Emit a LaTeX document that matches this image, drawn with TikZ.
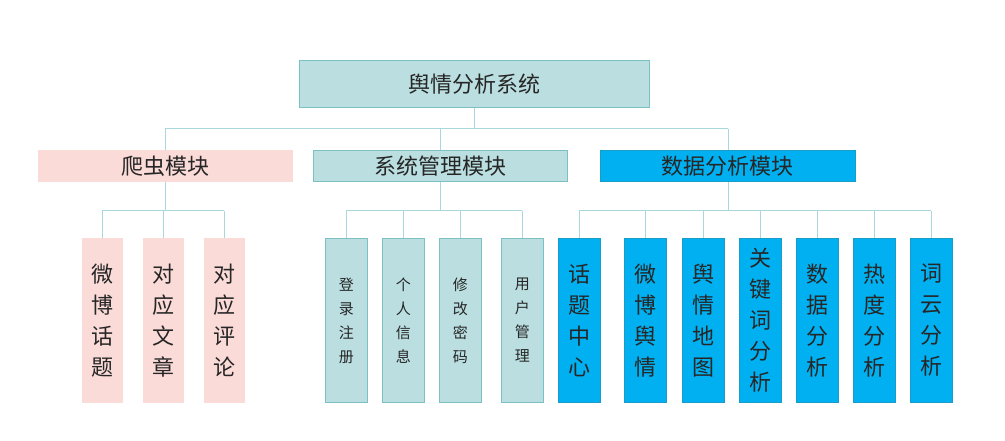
\documentclass[tikz,border=0pt]{standalone}
\usepackage{fontspec}
\setmainfont{Noto Sans CJK SC}
\begin{document}
\begin{tikzpicture}[x=1pt,y=-1pt,
  box/.style={draw=#1,line width=0.8pt,inner sep=0pt,anchor=north west,align=center,font=\fontsize{22}{26}\selectfont,text=black!85},
  teal/.style={box=tealB,fill=tealF},
  pink/.style={box=pinkF,fill=pinkF},
  blue/.style={box=blueB,fill=blueF},
  big/.style={font=\fontsize{22}{31}\selectfont},
  small/.style={font=\fontsize{15}{24}\selectfont},
  ln/.style={draw=lineC,line width=0.8pt}]
\definecolor{tealF}{HTML}{BBDFE1}\definecolor{tealB}{HTML}{7CC0C4}
\definecolor{pinkF}{HTML}{FADBD8}\definecolor{blueF}{HTML}{00B0F0}
\definecolor{blueB}{HTML}{1A9CCB}\definecolor{lineC}{HTML}{A8D8DC}
\useasboundingbox (0,0) rectangle (1005,441);
\node[teal,minimum width=350pt,minimum height=47pt] (root) at (299,60) {舆情分析系统};
\node[pink,minimum width=254pt,minimum height=31pt] (m1) at (38,150) {爬虫模块};
\node[teal,minimum width=254pt,minimum height=31pt] (m2) at (313,150) {系统管理模块};
\node[blue,minimum width=255pt,minimum height=31pt] (m3) at (600,150) {数据分析模块};
\foreach \n/\x/\t in {p1/82/微\\博\\话\\题, p2/143/对\\应\\文\\章, p3/204/对\\应\\评\\论}
  \node[pink,big,minimum width=40pt,minimum height=164pt] (\n) at (\x,238) {\t};
\foreach \n/\x/\t in {t1/325/登\\录\\注\\册, t2/382/个\\人\\信\\息, t3/439/修\\改\\密\\码, t4/501/用\\户\\管\\理}
  \node[teal,small,minimum width=42pt,minimum height=164pt] (\n) at (\x,238) {\t};
\foreach \n/\x/\t in {b1/558/话\\题\\中\\心, b2/624/微\\博\\舆\\情, b3/682/舆\\情\\地\\图, b4/739/关\\键\\词\\分\\析, b5/796/数\\据\\分\\析, b6/853/热\\度\\分\\析, b7/910/词\\云\\分\\析}
  \node[blue,big,minimum width=42pt,minimum height=164pt] (\n) at (\x,238) {\t};
% connectors
\draw[ln] (root.south) -- ++(0,21) coordinate (h);
\draw[ln] (m1.north |- h) -- (m3.north |- h);
\foreach \m in {m1,m2,m3} \draw[ln] (\m.north |- h) -- (\m.north);
\draw[ln] (m1.south) -- ++(0,29) coordinate (h1);
\draw[ln] (p1.north |- h1) -- (p3.north |- h1);
\foreach \m in {p1,p2,p3} \draw[ln] (\m.north |- h1) -- (\m.north);
\draw[ln] (m2.south) -- ++(0,29) coordinate (h2);
\draw[ln] (t1.north |- h2) -- (t4.north |- h2);
\foreach \m in {t1,t2,t3,t4} \draw[ln] (\m.north |- h2) -- (\m.north);
\draw[ln] (m3.south) -- ++(0,29) coordinate (h3);
\draw[ln] (b1.north |- h3) -- (b7.north |- h3);
\foreach \m in {b1,b2,b3,b4,b5,b6,b7} \draw[ln] (\m.north |- h3) -- (\m.north);
\end{tikzpicture}
\end{document}
